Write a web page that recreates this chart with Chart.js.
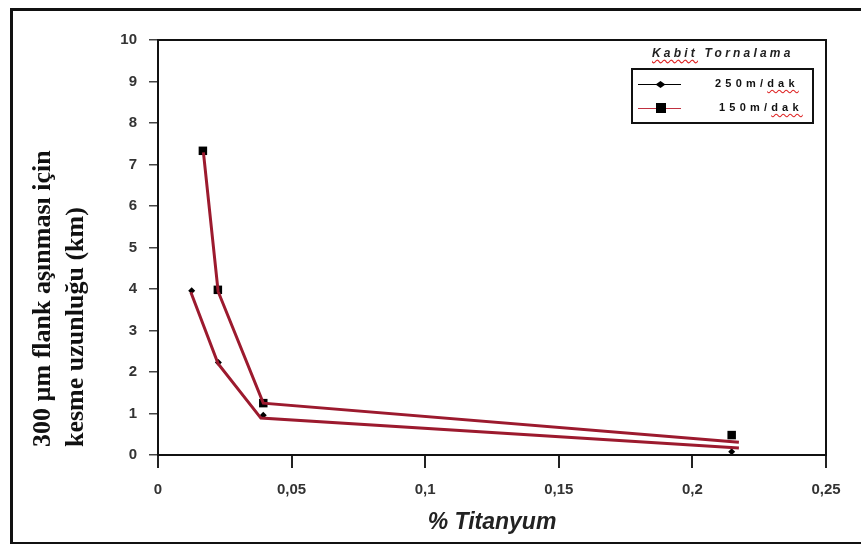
<!DOCTYPE html>
<html>
<head>
<meta charset="utf-8">
<script src="https://cdn.jsdelivr.net/npm/chart.js@4"></script>
<style>
  html, body { margin: 0; padding: 0; background: #fff; }
  #wrap { position: relative; width: 861px; height: 544px; overflow: hidden; }
  #frame { position: absolute; left: 10px; top: 8px; width: 900px; height: 531px;
           border: 3px solid #111; border-right: none; box-sizing: content-box; }
  #ytitle { position: absolute; left: 25px; top: 110px; height: 337px; width: 68px;
            writing-mode: vertical-rl; transform: rotate(180deg); text-align: start;
            font: bold 26px "Liberation Serif", "Times New Roman", serif; line-height: 33px;
            color: #111; white-space: nowrap; }
  #legTitle { position: absolute; left: 652px; top: 46px; font: italic bold 12px "Liberation Sans", Arial, sans-serif;
              letter-spacing: 3.2px; color: #222; }
  .wavy { text-decoration: underline wavy #d22; text-underline-offset: 2px; }
  #legend { position: absolute; left: 631px; top: 68px; width: 179px; height: 52px;
            border: 2px solid #111; }
  .row { position: absolute; left: 0; width: 179px; height: 20px; }
  .sample { position: absolute; left: 5px; top: 9px; width: 43px; height: 1px; }
  .txt { position: absolute; top: 2px; font: bold 11px "Liberation Sans", Arial, sans-serif;
         letter-spacing: 4.2px; color: #111; }
  .mk { position: absolute; background: #000; }
</style>
</head>
<body>
<div id="wrap">
  <canvas id="c" width="861" height="544"></canvas>
  <div id="frame"></div>
  <div id="ytitle">300 µm flank aşınması için<br>kesme uzunluğu (km)</div>
  <div id="legTitle"><span class="wavy">Kabit</span> Tornalama</div>
  <div id="legend">
    <div class="row" style="top:5px">
      <div class="sample" style="background:#000"></div>
      <div class="mk" style="left:24px;top:6px;width:7px;height:7px;transform:scaleY(0.7) rotate(45deg)"></div>
      <div class="txt" style="left:82px">250m/<span class="wavy">dak</span></div>
    </div>
    <div class="row" style="top:29px">
      <div class="sample" style="background:#c03040"></div>
      <div class="mk" style="left:23px;top:4px;width:10px;height:10px"></div>
      <div class="txt" style="left:86px">150m/<span class="wavy">dak</span></div>
    </div>
  </div>
</div>
<script>
// % Ti values and cutting length (km)
const ti250 = [0.0126, 0.0226, 0.0394, 0.2147];
const km250 = [3.96, 2.23, 0.96, 0.08];
const ti150 = [0.0168, 0.0224, 0.0394, 0.2147];
const km150 = [7.33, 3.98, 1.25, 0.48];

// the red curves are drawn a little apart from the markers
const lineTi250 = [0.0123, 0.0225, 0.0385, 0.2174];
const lineKm250 = [3.92, 2.20, 0.89, 0.17];
const lineTi150 = [0.0170, 0.0225, 0.0394, 0.2174];
const lineKm150 = [7.29, 3.94, 1.25, 0.31];

const xTicks = [0, 0.05, 0.1, 0.15, 0.2, 0.25];
const xTickLabels = ["0", "0,05", "0,1", "0,15", "0,2", "0,25"];
const yTicks = [0, 1, 2, 3, 4, 5, 6, 7, 8, 9, 10];

function pts(xs, ys) {
  return xs.map((x, i) => ({ x: x, y: ys[i] }));
}

const RED = "#9c1a2e";

const boxPlugin = {
  id: "box",
  afterDraw(chart) {
    const a = chart.chartArea, ctx = chart.ctx;
    ctx.save();
    ctx.strokeStyle = "#111";
    ctx.lineWidth = 2;
    ctx.strokeRect(a.left, a.top, a.right - a.left, a.bottom - a.top);
    ctx.restore();
  }
};

new Chart(document.getElementById("c"), {
  type: "scatter",
  data: {
    datasets: [
      { data: pts(lineTi150, lineKm150), showLine: true, borderColor: RED, borderWidth: 3,
        pointRadius: 0, fill: false },
      { data: pts(lineTi250, lineKm250), showLine: true, borderColor: RED, borderWidth: 3,
        pointRadius: 0, fill: false },
      { label: "150m/dak", data: pts(ti150, km150), pointStyle: "rect", pointRadius: 6,
        backgroundColor: "#000", borderColor: "#000", borderWidth: 0 },
      { label: "250m/dak", data: pts(ti250, km250), pointStyle: "rectRot", pointRadius: 3.5,
        backgroundColor: "#000", borderColor: "#000", borderWidth: 0 }
    ]
  },
  options: {
    responsive: false,
    animation: false,
    layout: { padding: { left: 0, top: 40, right: 35, bottom: 0 } },
    plugins: { legend: { display: false }, tooltip: { enabled: false } },
    scales: {
      x: {
        type: "linear", min: 0, max: 0.25,
        afterBuildTicks(s) { s.ticks = xTicks.map(v => ({ value: v })); },
        afterFit(s) { s.height = 89; },
        grid: { drawOnChartArea: false, tickLength: 13, color: "#222", lineWidth: 2 },
        border: { color: "#111", width: 2 },
        ticks: {
          padding: 13,
          color: "#333",
          font: { family: "Liberation Sans", size: 15, weight: "bold" },
          callback(v) { const i = xTicks.indexOf(v); return i >= 0 ? xTickLabels[i] : ""; }
        },
        title: {
          display: true, text: "% Titanyum", color: "#222",
          font: { family: "Liberation Sans", size: 23, style: "italic", weight: "bold" },
          padding: { top: 2, bottom: 8 }
        }
      },
      y: {
        type: "linear", min: 0, max: 10,
        afterBuildTicks(s) { s.ticks = yTicks.map(v => ({ value: v })); },
        afterFit(s) { s.width = 158; },
        grid: { drawOnChartArea: false, tickLength: 9, color: "#444", lineWidth: 1.5 },
        border: { color: "#111", width: 2 },
        ticks: {
          padding: 12,
          color: "#333",
          font: { family: "Liberation Sans", size: 15, weight: "bold" }
        }
      }
    }
  },
  plugins: [boxPlugin]
});
</script>
</body>
</html>
